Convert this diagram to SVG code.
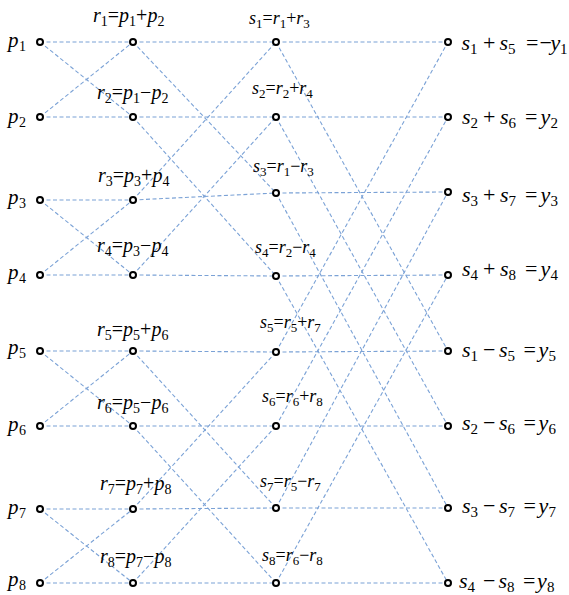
<svg xmlns="http://www.w3.org/2000/svg" width="569" height="595" viewBox="0 0 569 595">
<defs>
<circle id="dot" r="3" fill="#fff" stroke="#000" stroke-width="2"/>
</defs>
<g id="connectors" stroke="#7ba2d6" stroke-width="1.1" stroke-dasharray="4 2.5" fill="none">
<line x1="40" y1="42" x2="133" y2="42"/><line x1="40" y1="42" x2="133" y2="117"/>
<line x1="40" y1="117" x2="133" y2="42"/><line x1="40" y1="117" x2="133" y2="117"/>
<line x1="40" y1="200" x2="133" y2="200"/><line x1="40" y1="200" x2="133" y2="275"/>
<line x1="40" y1="275" x2="133" y2="200"/><line x1="40" y1="275" x2="133" y2="275"/>
<line x1="40" y1="351" x2="133" y2="351"/><line x1="40" y1="351" x2="133" y2="426"/>
<line x1="40" y1="426" x2="133" y2="351"/><line x1="40" y1="426" x2="133" y2="426"/>
<line x1="40" y1="509" x2="133" y2="509"/><line x1="40" y1="509" x2="133" y2="583"/>
<line x1="40" y1="583" x2="133" y2="509"/><line x1="40" y1="583" x2="133" y2="583"/>
<line x1="133" y1="42" x2="276" y2="42"/><line x1="133" y1="200" x2="276" y2="42"/>
<line x1="133" y1="117" x2="276" y2="117"/><line x1="133" y1="275" x2="276" y2="117"/>
<line x1="133" y1="42" x2="276" y2="193"/><line x1="133" y1="200" x2="276" y2="193"/>
<line x1="133" y1="117" x2="276" y2="276"/><line x1="133" y1="275" x2="276" y2="276"/>
<line x1="133" y1="351" x2="276" y2="352"/><line x1="133" y1="509" x2="276" y2="352"/>
<line x1="133" y1="426" x2="276" y2="426"/><line x1="133" y1="583" x2="276" y2="426"/>
<line x1="133" y1="351" x2="276" y2="508"/><line x1="133" y1="509" x2="276" y2="508"/>
<line x1="133" y1="426" x2="276" y2="583"/><line x1="133" y1="583" x2="276" y2="583"/>
<line x1="276" y1="42" x2="448" y2="42"/><line x1="276" y1="352" x2="448" y2="42"/>
<line x1="276" y1="117" x2="448" y2="117"/><line x1="276" y1="426" x2="448" y2="117"/>
<line x1="276" y1="193" x2="448" y2="192"/><line x1="276" y1="508" x2="448" y2="192"/>
<line x1="276" y1="276" x2="448" y2="275"/><line x1="276" y1="583" x2="448" y2="275"/>
<line x1="276" y1="42" x2="448" y2="351"/><line x1="276" y1="352" x2="448" y2="351"/>
<line x1="276" y1="117" x2="448" y2="426"/><line x1="276" y1="426" x2="448" y2="426"/>
<line x1="276" y1="193" x2="448" y2="508"/><line x1="276" y1="508" x2="448" y2="508"/>
<line x1="276" y1="276" x2="448" y2="583"/><line x1="276" y1="583" x2="448" y2="583"/>
</g>
<g id="p1"><use href="#dot" x="40" y="42"/><text x="8" y="47" style="font-family:'Liberation Serif',serif !important" font-size="21" font-style="italic">p</text><text x="19" y="51" style="font-family:'Liberation Serif',serif !important" font-size="14">1</text></g>
<g id="p2"><use href="#dot" x="40" y="117"/><text x="8" y="123" style="font-family:'Liberation Serif',serif !important" font-size="21" font-style="italic">p</text><text x="19" y="127" style="font-family:'Liberation Serif',serif !important" font-size="14">2</text></g>
<g id="p3"><use href="#dot" x="40" y="200"/><text x="8" y="204" style="font-family:'Liberation Serif',serif !important" font-size="21" font-style="italic">p</text><text x="19" y="208" style="font-family:'Liberation Serif',serif !important" font-size="14">3</text></g>
<g id="p4"><use href="#dot" x="40" y="275"/><text x="8" y="279" style="font-family:'Liberation Serif',serif !important" font-size="21" font-style="italic">p</text><text x="19" y="283" style="font-family:'Liberation Serif',serif !important" font-size="14">4</text></g>
<g id="p5"><use href="#dot" x="40" y="351"/><text x="8" y="354" style="font-family:'Liberation Serif',serif !important" font-size="21" font-style="italic">p</text><text x="19" y="358" style="font-family:'Liberation Serif',serif !important" font-size="14">5</text></g>
<g id="p6"><use href="#dot" x="40" y="426"/><text x="8" y="431" style="font-family:'Liberation Serif',serif !important" font-size="21" font-style="italic">p</text><text x="19" y="435" style="font-family:'Liberation Serif',serif !important" font-size="14">6</text></g>
<g id="p7"><use href="#dot" x="40" y="509"/><text x="8" y="514" style="font-family:'Liberation Serif',serif !important" font-size="21" font-style="italic">p</text><text x="19" y="518" style="font-family:'Liberation Serif',serif !important" font-size="14">7</text></g>
<g id="p8"><use href="#dot" x="40" y="583"/><text x="8" y="586" style="font-family:'Liberation Serif',serif !important" font-size="21" font-style="italic">p</text><text x="19" y="590" style="font-family:'Liberation Serif',serif !important" font-size="14">8</text></g>

<g id="r1"><use href="#dot" x="133" y="42"/><text x="93" y="22" style="font-family:'Liberation Serif',serif !important" font-size="20" font-style="italic">r</text><text x="100.8" y="26" style="font-family:'Liberation Serif',serif !important" font-size="14">1</text><text x="107.8" y="22" style="font-family:'Liberation Serif',serif !important" font-size="20">=</text><text x="119.1" y="22" style="font-family:'Liberation Serif',serif !important" font-size="20" font-style="italic">p</text><text x="129.1" y="26" style="font-family:'Liberation Serif',serif !important" font-size="14">1</text><text x="136.1" y="22" style="font-family:'Liberation Serif',serif !important" font-size="20">+</text><text x="147.4" y="22" style="font-family:'Liberation Serif',serif !important" font-size="20" font-style="italic">p</text><text x="157.4" y="26" style="font-family:'Liberation Serif',serif !important" font-size="14">2</text></g>
<g id="r2"><use href="#dot" x="133" y="117"/><text x="97" y="99" style="font-family:'Liberation Serif',serif !important" font-size="20" font-style="italic">r</text><text x="104.8" y="103" style="font-family:'Liberation Serif',serif !important" font-size="14">2</text><text x="111.8" y="99" style="font-family:'Liberation Serif',serif !important" font-size="20">=</text><text x="123.1" y="99" style="font-family:'Liberation Serif',serif !important" font-size="20" font-style="italic">p</text><text x="133.1" y="103" style="font-family:'Liberation Serif',serif !important" font-size="14">1</text><text x="140.1" y="99" style="font-family:'Liberation Serif',serif !important" font-size="20">−</text><text x="151.4" y="99" style="font-family:'Liberation Serif',serif !important" font-size="20" font-style="italic">p</text><text x="161.4" y="103" style="font-family:'Liberation Serif',serif !important" font-size="14">2</text></g>
<g id="r3"><use href="#dot" x="133" y="200"/><text x="98" y="182" style="font-family:'Liberation Serif',serif !important" font-size="20" font-style="italic">r</text><text x="105.8" y="186" style="font-family:'Liberation Serif',serif !important" font-size="14">3</text><text x="112.8" y="182" style="font-family:'Liberation Serif',serif !important" font-size="20">=</text><text x="124.1" y="182" style="font-family:'Liberation Serif',serif !important" font-size="20" font-style="italic">p</text><text x="134.1" y="186" style="font-family:'Liberation Serif',serif !important" font-size="14">3</text><text x="141.1" y="182" style="font-family:'Liberation Serif',serif !important" font-size="20">+</text><text x="152.4" y="182" style="font-family:'Liberation Serif',serif !important" font-size="20" font-style="italic">p</text><text x="162.4" y="186" style="font-family:'Liberation Serif',serif !important" font-size="14">4</text></g>
<g id="r4"><use href="#dot" x="133" y="275"/><text x="97" y="252" style="font-family:'Liberation Serif',serif !important" font-size="20" font-style="italic">r</text><text x="104.8" y="256" style="font-family:'Liberation Serif',serif !important" font-size="14">4</text><text x="111.8" y="252" style="font-family:'Liberation Serif',serif !important" font-size="20">=</text><text x="123.1" y="252" style="font-family:'Liberation Serif',serif !important" font-size="20" font-style="italic">p</text><text x="133.1" y="256" style="font-family:'Liberation Serif',serif !important" font-size="14">3</text><text x="140.1" y="252" style="font-family:'Liberation Serif',serif !important" font-size="20">−</text><text x="151.4" y="252" style="font-family:'Liberation Serif',serif !important" font-size="20" font-style="italic">p</text><text x="161.4" y="256" style="font-family:'Liberation Serif',serif !important" font-size="14">4</text></g>
<g id="r5"><use href="#dot" x="133" y="351"/><text x="97" y="336" style="font-family:'Liberation Serif',serif !important" font-size="20" font-style="italic">r</text><text x="104.8" y="340" style="font-family:'Liberation Serif',serif !important" font-size="14">5</text><text x="111.8" y="336" style="font-family:'Liberation Serif',serif !important" font-size="20">=</text><text x="123.1" y="336" style="font-family:'Liberation Serif',serif !important" font-size="20" font-style="italic">p</text><text x="133.1" y="340" style="font-family:'Liberation Serif',serif !important" font-size="14">5</text><text x="140.1" y="336" style="font-family:'Liberation Serif',serif !important" font-size="20">+</text><text x="151.4" y="336" style="font-family:'Liberation Serif',serif !important" font-size="20" font-style="italic">p</text><text x="161.4" y="340" style="font-family:'Liberation Serif',serif !important" font-size="14">6</text></g>
<g id="r6"><use href="#dot" x="133" y="426"/><text x="97" y="409" style="font-family:'Liberation Serif',serif !important" font-size="20" font-style="italic">r</text><text x="104.8" y="413" style="font-family:'Liberation Serif',serif !important" font-size="14">6</text><text x="111.8" y="409" style="font-family:'Liberation Serif',serif !important" font-size="20">=</text><text x="123.1" y="409" style="font-family:'Liberation Serif',serif !important" font-size="20" font-style="italic">p</text><text x="133.1" y="413" style="font-family:'Liberation Serif',serif !important" font-size="14">5</text><text x="140.1" y="409" style="font-family:'Liberation Serif',serif !important" font-size="20">−</text><text x="151.4" y="409" style="font-family:'Liberation Serif',serif !important" font-size="20" font-style="italic">p</text><text x="161.4" y="413" style="font-family:'Liberation Serif',serif !important" font-size="14">6</text></g>
<g id="r7"><use href="#dot" x="133" y="509"/><text x="100" y="490" style="font-family:'Liberation Serif',serif !important" font-size="20" font-style="italic">r</text><text x="107.8" y="494" style="font-family:'Liberation Serif',serif !important" font-size="14">7</text><text x="114.8" y="490" style="font-family:'Liberation Serif',serif !important" font-size="20">=</text><text x="126.1" y="490" style="font-family:'Liberation Serif',serif !important" font-size="20" font-style="italic">p</text><text x="136.1" y="494" style="font-family:'Liberation Serif',serif !important" font-size="14">7</text><text x="143.1" y="490" style="font-family:'Liberation Serif',serif !important" font-size="20">+</text><text x="154.4" y="490" style="font-family:'Liberation Serif',serif !important" font-size="20" font-style="italic">p</text><text x="164.4" y="494" style="font-family:'Liberation Serif',serif !important" font-size="14">8</text></g>
<g id="r8"><use href="#dot" x="133" y="583"/><text x="100" y="563" style="font-family:'Liberation Serif',serif !important" font-size="20" font-style="italic">r</text><text x="107.8" y="567" style="font-family:'Liberation Serif',serif !important" font-size="14">8</text><text x="114.8" y="563" style="font-family:'Liberation Serif',serif !important" font-size="20">=</text><text x="126.1" y="563" style="font-family:'Liberation Serif',serif !important" font-size="20" font-style="italic">p</text><text x="136.1" y="567" style="font-family:'Liberation Serif',serif !important" font-size="14">7</text><text x="143.1" y="563" style="font-family:'Liberation Serif',serif !important" font-size="20">−</text><text x="154.4" y="563" style="font-family:'Liberation Serif',serif !important" font-size="20" font-style="italic">p</text><text x="164.4" y="567" style="font-family:'Liberation Serif',serif !important" font-size="14">8</text></g>

<g id="s1"><use href="#dot" x="276" y="42"/><text x="249" y="24" style="font-family:'Liberation Serif',serif !important" font-size="18" font-style="italic">s</text><text x="256" y="28" style="font-family:'Liberation Serif',serif !important" font-size="13">1</text><text x="262.5" y="24" style="font-family:'Liberation Serif',serif !important" font-size="18">=</text><text x="272.7" y="24" style="font-family:'Liberation Serif',serif !important" font-size="18" font-style="italic">r</text><text x="279.7" y="28" style="font-family:'Liberation Serif',serif !important" font-size="13">1</text><text x="286.2" y="24" style="font-family:'Liberation Serif',serif !important" font-size="18">+</text><text x="296.3" y="24" style="font-family:'Liberation Serif',serif !important" font-size="18" font-style="italic">r</text><text x="303.3" y="28" style="font-family:'Liberation Serif',serif !important" font-size="13">3</text></g>
<g id="s2"><use href="#dot" x="276" y="117"/><text x="252" y="94" style="font-family:'Liberation Serif',serif !important" font-size="18" font-style="italic">s</text><text x="259" y="98" style="font-family:'Liberation Serif',serif !important" font-size="13">2</text><text x="265.5" y="94" style="font-family:'Liberation Serif',serif !important" font-size="18">=</text><text x="275.7" y="94" style="font-family:'Liberation Serif',serif !important" font-size="18" font-style="italic">r</text><text x="282.7" y="98" style="font-family:'Liberation Serif',serif !important" font-size="13">2</text><text x="289.2" y="94" style="font-family:'Liberation Serif',serif !important" font-size="18">+</text><text x="299.3" y="94" style="font-family:'Liberation Serif',serif !important" font-size="18" font-style="italic">r</text><text x="306.3" y="98" style="font-family:'Liberation Serif',serif !important" font-size="13">4</text></g>
<g id="s3"><use href="#dot" x="276" y="193"/><text x="253" y="172" style="font-family:'Liberation Serif',serif !important" font-size="18" font-style="italic">s</text><text x="260" y="176" style="font-family:'Liberation Serif',serif !important" font-size="13">3</text><text x="266.5" y="172" style="font-family:'Liberation Serif',serif !important" font-size="18">=</text><text x="276.7" y="172" style="font-family:'Liberation Serif',serif !important" font-size="18" font-style="italic">r</text><text x="283.7" y="176" style="font-family:'Liberation Serif',serif !important" font-size="13">1</text><text x="290.2" y="172" style="font-family:'Liberation Serif',serif !important" font-size="18">−</text><text x="300.3" y="172" style="font-family:'Liberation Serif',serif !important" font-size="18" font-style="italic">r</text><text x="307.3" y="176" style="font-family:'Liberation Serif',serif !important" font-size="13">3</text></g>
<g id="s4"><use href="#dot" x="276" y="276"/><text x="255" y="253" style="font-family:'Liberation Serif',serif !important" font-size="18" font-style="italic">s</text><text x="262" y="257" style="font-family:'Liberation Serif',serif !important" font-size="13">4</text><text x="268.5" y="253" style="font-family:'Liberation Serif',serif !important" font-size="18">=</text><text x="278.7" y="253" style="font-family:'Liberation Serif',serif !important" font-size="18" font-style="italic">r</text><text x="285.7" y="257" style="font-family:'Liberation Serif',serif !important" font-size="13">2</text><text x="292.2" y="253" style="font-family:'Liberation Serif',serif !important" font-size="18">−</text><text x="302.3" y="253" style="font-family:'Liberation Serif',serif !important" font-size="18" font-style="italic">r</text><text x="309.3" y="257" style="font-family:'Liberation Serif',serif !important" font-size="13">4</text></g>
<g id="s5"><use href="#dot" x="276" y="352"/><text x="260" y="328" style="font-family:'Liberation Serif',serif !important" font-size="18" font-style="italic">s</text><text x="267" y="332" style="font-family:'Liberation Serif',serif !important" font-size="13">5</text><text x="273.5" y="328" style="font-family:'Liberation Serif',serif !important" font-size="18">=</text><text x="283.7" y="328" style="font-family:'Liberation Serif',serif !important" font-size="18" font-style="italic">r</text><text x="290.7" y="332" style="font-family:'Liberation Serif',serif !important" font-size="13">5</text><text x="297.2" y="328" style="font-family:'Liberation Serif',serif !important" font-size="18">+</text><text x="307.3" y="328" style="font-family:'Liberation Serif',serif !important" font-size="18" font-style="italic">r</text><text x="314.3" y="332" style="font-family:'Liberation Serif',serif !important" font-size="13">7</text></g>
<g id="s6"><use href="#dot" x="276" y="426"/><text x="262" y="402" style="font-family:'Liberation Serif',serif !important" font-size="18" font-style="italic">s</text><text x="269" y="406" style="font-family:'Liberation Serif',serif !important" font-size="13">6</text><text x="275.5" y="402" style="font-family:'Liberation Serif',serif !important" font-size="18">=</text><text x="285.7" y="402" style="font-family:'Liberation Serif',serif !important" font-size="18" font-style="italic">r</text><text x="292.7" y="406" style="font-family:'Liberation Serif',serif !important" font-size="13">6</text><text x="299.2" y="402" style="font-family:'Liberation Serif',serif !important" font-size="18">+</text><text x="309.3" y="402" style="font-family:'Liberation Serif',serif !important" font-size="18" font-style="italic">r</text><text x="316.3" y="406" style="font-family:'Liberation Serif',serif !important" font-size="13">8</text></g>
<g id="s7"><use href="#dot" x="276" y="508"/><text x="260" y="487" style="font-family:'Liberation Serif',serif !important" font-size="18" font-style="italic">s</text><text x="267" y="491" style="font-family:'Liberation Serif',serif !important" font-size="13">7</text><text x="273.5" y="487" style="font-family:'Liberation Serif',serif !important" font-size="18">=</text><text x="283.7" y="487" style="font-family:'Liberation Serif',serif !important" font-size="18" font-style="italic">r</text><text x="290.7" y="491" style="font-family:'Liberation Serif',serif !important" font-size="13">5</text><text x="297.2" y="487" style="font-family:'Liberation Serif',serif !important" font-size="18">−</text><text x="307.3" y="487" style="font-family:'Liberation Serif',serif !important" font-size="18" font-style="italic">r</text><text x="314.3" y="491" style="font-family:'Liberation Serif',serif !important" font-size="13">7</text></g>
<g id="s8"><use href="#dot" x="276" y="583"/><text x="262" y="561" style="font-family:'Liberation Serif',serif !important" font-size="18" font-style="italic">s</text><text x="269" y="565" style="font-family:'Liberation Serif',serif !important" font-size="13">8</text><text x="275.5" y="561" style="font-family:'Liberation Serif',serif !important" font-size="18">=</text><text x="285.7" y="561" style="font-family:'Liberation Serif',serif !important" font-size="18" font-style="italic">r</text><text x="292.7" y="565" style="font-family:'Liberation Serif',serif !important" font-size="13">6</text><text x="299.2" y="561" style="font-family:'Liberation Serif',serif !important" font-size="18">−</text><text x="309.3" y="561" style="font-family:'Liberation Serif',serif !important" font-size="18" font-style="italic">r</text><text x="316.3" y="565" style="font-family:'Liberation Serif',serif !important" font-size="13">8</text></g>

<g id="y1"><use href="#dot" x="448" y="42"/><text x="461.5" y="50" style="font-family:'Liberation Serif',serif !important" font-size="22" font-style="italic">s</text><text x="470" y="54" style="font-family:'Liberation Serif',serif !important" font-size="15">1</text><text x="483" y="50" style="font-family:'Liberation Serif',serif !important" font-size="22">+</text><text x="499.5" y="50" style="font-family:'Liberation Serif',serif !important" font-size="22" font-style="italic">s</text><text x="508" y="54" style="font-family:'Liberation Serif',serif !important" font-size="15">5</text><text x="526" y="50" style="font-family:'Liberation Serif',serif !important" font-size="22">=</text><text x="539.5" y="50" style="font-family:'Liberation Serif',serif !important" font-size="22">−</text><text x="550.5" y="50" style="font-family:'Liberation Serif',serif !important" font-size="22" font-style="italic">y</text><text x="560" y="54" style="font-family:'Liberation Serif',serif !important" font-size="15">1</text></g>
<g id="y2"><use href="#dot" x="448" y="117"/><text x="462" y="124" style="font-family:'Liberation Serif',serif !important" font-size="22" font-style="italic">s</text><text x="470.6" y="128" style="font-family:'Liberation Serif',serif !important" font-size="15">2</text><text x="483" y="124" style="font-family:'Liberation Serif',serif !important" font-size="22">+</text><text x="500" y="124" style="font-family:'Liberation Serif',serif !important" font-size="22" font-style="italic">s</text><text x="508.6" y="128" style="font-family:'Liberation Serif',serif !important" font-size="15">6</text><text x="525" y="124" style="font-family:'Liberation Serif',serif !important" font-size="22">=</text><text x="540.5" y="124" style="font-family:'Liberation Serif',serif !important" font-size="22" font-style="italic">y</text><text x="550.5" y="128" style="font-family:'Liberation Serif',serif !important" font-size="15">2</text></g>
<g id="y3"><use href="#dot" x="448" y="192"/><text x="462" y="202" style="font-family:'Liberation Serif',serif !important" font-size="22" font-style="italic">s</text><text x="470.6" y="206" style="font-family:'Liberation Serif',serif !important" font-size="15">3</text><text x="483" y="202" style="font-family:'Liberation Serif',serif !important" font-size="22">+</text><text x="500" y="202" style="font-family:'Liberation Serif',serif !important" font-size="22" font-style="italic">s</text><text x="508.6" y="206" style="font-family:'Liberation Serif',serif !important" font-size="15">7</text><text x="525" y="202" style="font-family:'Liberation Serif',serif !important" font-size="22">=</text><text x="540.5" y="202" style="font-family:'Liberation Serif',serif !important" font-size="22" font-style="italic">y</text><text x="550.5" y="206" style="font-family:'Liberation Serif',serif !important" font-size="15">3</text></g>
<g id="y4"><use href="#dot" x="448" y="275"/><text x="462" y="276" style="font-family:'Liberation Serif',serif !important" font-size="22" font-style="italic">s</text><text x="470.6" y="280" style="font-family:'Liberation Serif',serif !important" font-size="15">4</text><text x="483" y="276" style="font-family:'Liberation Serif',serif !important" font-size="22">+</text><text x="500" y="276" style="font-family:'Liberation Serif',serif !important" font-size="22" font-style="italic">s</text><text x="508.6" y="280" style="font-family:'Liberation Serif',serif !important" font-size="15">8</text><text x="525" y="276" style="font-family:'Liberation Serif',serif !important" font-size="22">=</text><text x="540.5" y="276" style="font-family:'Liberation Serif',serif !important" font-size="22" font-style="italic">y</text><text x="550.5" y="280" style="font-family:'Liberation Serif',serif !important" font-size="15">4</text></g>
<g id="y5"><use href="#dot" x="448" y="351"/><text x="462" y="357" style="font-family:'Liberation Serif',serif !important" font-size="22" font-style="italic">s</text><text x="470.6" y="361" style="font-family:'Liberation Serif',serif !important" font-size="15">1</text><text x="483" y="357" style="font-family:'Liberation Serif',serif !important" font-size="22">−</text><text x="499" y="357" style="font-family:'Liberation Serif',serif !important" font-size="22" font-style="italic">s</text><text x="507.6" y="361" style="font-family:'Liberation Serif',serif !important" font-size="15">5</text><text x="523.5" y="357" style="font-family:'Liberation Serif',serif !important" font-size="22">=</text><text x="538.5" y="357" style="font-family:'Liberation Serif',serif !important" font-size="22" font-style="italic">y</text><text x="548.5" y="361" style="font-family:'Liberation Serif',serif !important" font-size="15">5</text></g>
<g id="y6"><use href="#dot" x="448" y="426"/><text x="462" y="430" style="font-family:'Liberation Serif',serif !important" font-size="22" font-style="italic">s</text><text x="470.6" y="434" style="font-family:'Liberation Serif',serif !important" font-size="15">2</text><text x="483" y="430" style="font-family:'Liberation Serif',serif !important" font-size="22">−</text><text x="499" y="430" style="font-family:'Liberation Serif',serif !important" font-size="22" font-style="italic">s</text><text x="507.6" y="434" style="font-family:'Liberation Serif',serif !important" font-size="15">6</text><text x="523.5" y="430" style="font-family:'Liberation Serif',serif !important" font-size="22">=</text><text x="538.5" y="430" style="font-family:'Liberation Serif',serif !important" font-size="22" font-style="italic">y</text><text x="548.5" y="434" style="font-family:'Liberation Serif',serif !important" font-size="15">6</text></g>
<g id="y7"><use href="#dot" x="448" y="508"/><text x="462" y="513" style="font-family:'Liberation Serif',serif !important" font-size="22" font-style="italic">s</text><text x="470.6" y="517" style="font-family:'Liberation Serif',serif !important" font-size="15">3</text><text x="483" y="513" style="font-family:'Liberation Serif',serif !important" font-size="22">−</text><text x="499" y="513" style="font-family:'Liberation Serif',serif !important" font-size="22" font-style="italic">s</text><text x="507.6" y="517" style="font-family:'Liberation Serif',serif !important" font-size="15">7</text><text x="523.5" y="513" style="font-family:'Liberation Serif',serif !important" font-size="22">=</text><text x="538.5" y="513" style="font-family:'Liberation Serif',serif !important" font-size="22" font-style="italic">y</text><text x="548.5" y="517" style="font-family:'Liberation Serif',serif !important" font-size="15">7</text></g>
<g id="y8"><use href="#dot" x="448" y="583"/><text x="459" y="588" style="font-family:'Liberation Serif',serif !important" font-size="22" font-style="italic">s</text><text x="467.6" y="592" style="font-family:'Liberation Serif',serif !important" font-size="15">4</text><text x="483" y="588" style="font-family:'Liberation Serif',serif !important" font-size="22">−</text><text x="498.5" y="588" style="font-family:'Liberation Serif',serif !important" font-size="22" font-style="italic">s</text><text x="507.1" y="592" style="font-family:'Liberation Serif',serif !important" font-size="15">8</text><text x="523" y="588" style="font-family:'Liberation Serif',serif !important" font-size="22">=</text><text x="537" y="588" style="font-family:'Liberation Serif',serif !important" font-size="22" font-style="italic">y</text><text x="547" y="592" style="font-family:'Liberation Serif',serif !important" font-size="15">8</text></g>
</svg>
